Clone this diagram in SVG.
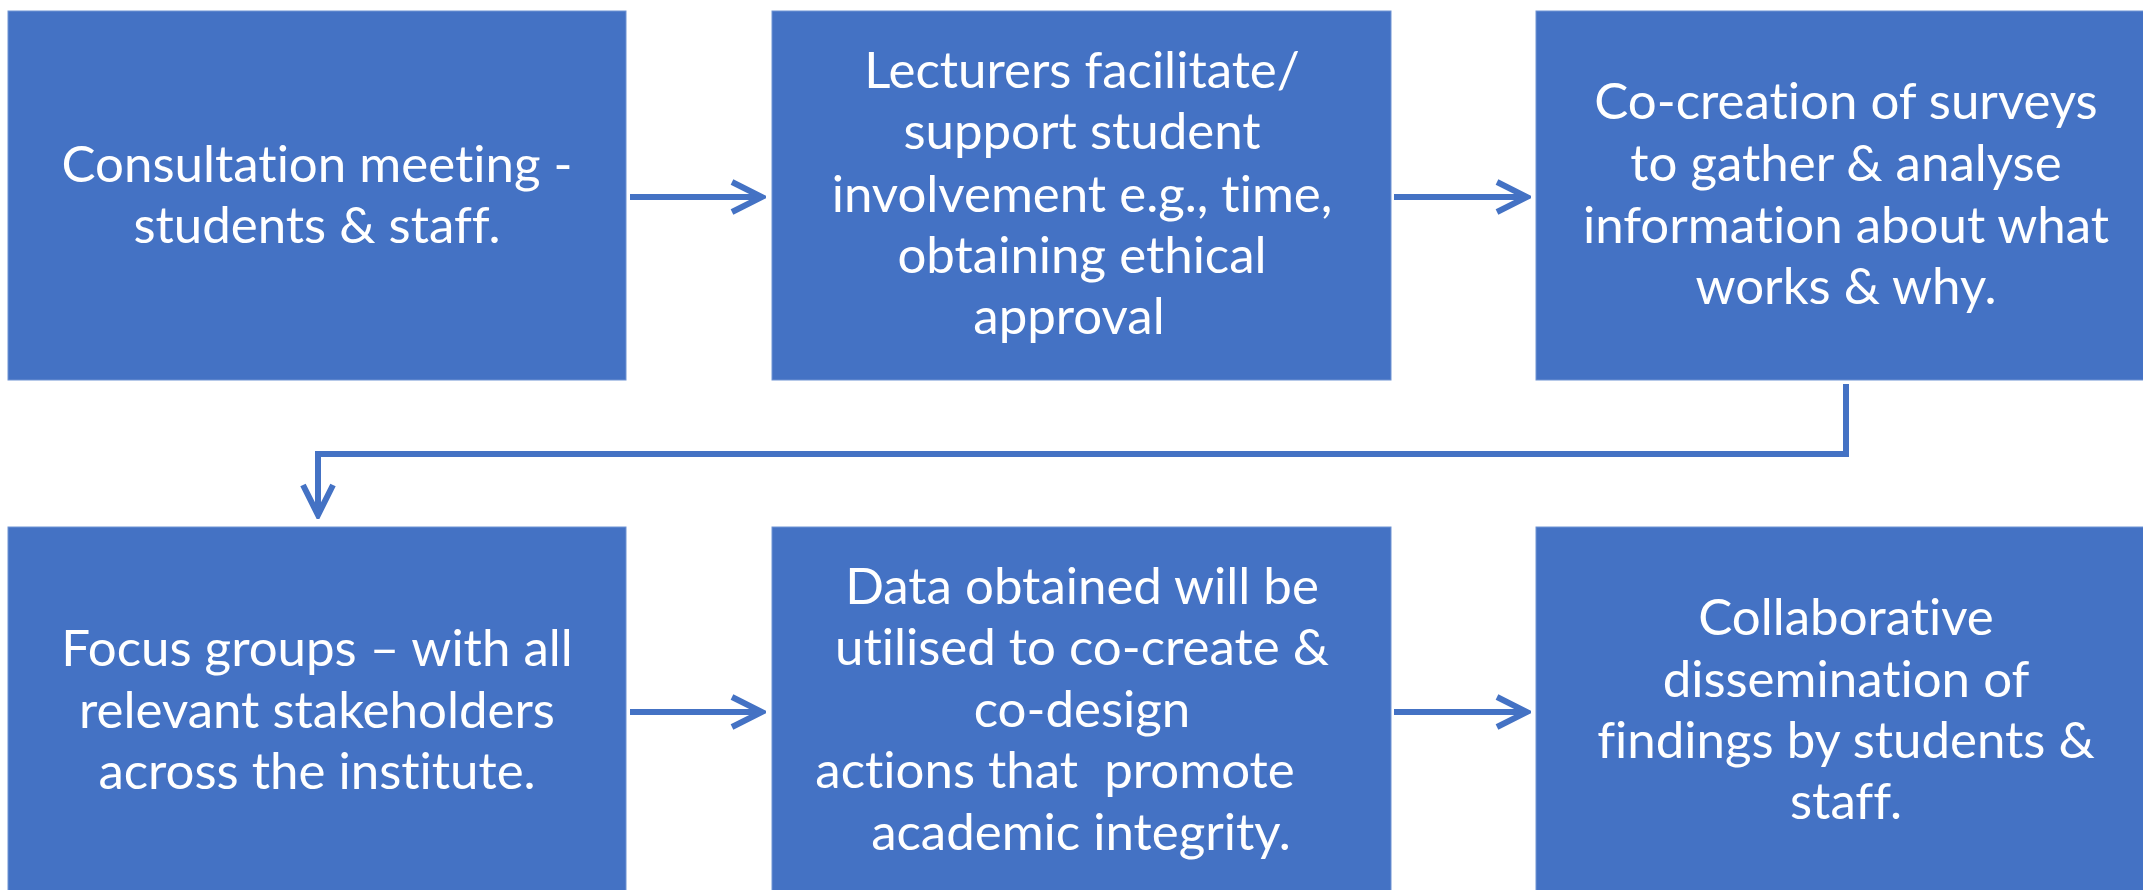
<svg xmlns="http://www.w3.org/2000/svg" width="2143" height="890" viewBox="0 0 2143 890">
<defs>
<style>
.box{fill:#4472C4;stroke:#6f93d3;stroke-width:1}
.t{font-family:Lato,"Open Sans","Liberation Sans",sans-serif;font-size:51px;fill:#ffffff;text-anchor:middle;white-space:pre;font-variant-ligatures:none;font-feature-settings:"liga" 0}
.c{fill:none;stroke:#4472C4;stroke-width:6;marker-end:url(#ah)}
</style>
<marker id="ah" markerUnits="userSpaceOnUse" markerWidth="40" markerHeight="40" viewBox="-36 -20 40 40" refX="0" refY="0" orient="auto">
<path d="M-30,-15 L0,0 L-30,15" fill="none" stroke="#4472C4" stroke-width="6"/>
</marker>
</defs>
<rect width="2143" height="890" fill="#ffffff"/>
<g id="connectors">
<path class="c" d="M630,197 H762"/>
<path class="c" d="M1394,197 H1527"/>
<path class="c" d="M1846,384 V454 H318 V515"/>
<path class="c" d="M630,712 H762"/>
<path class="c" d="M1394,712 H1527"/>
</g>
<g id="n1">
<rect class="box" x="8" y="11" width="618" height="369"/>
<text class="t" x="317" y="182">Consultation meeting -</text>
<text class="t" x="317" y="243">students &amp; staff.</text>
</g>
<g id="n2">
<rect class="box" x="772" y="11" width="619" height="369"/>
<text class="t" x="1082" y="88">Lecturers facilitate/</text>
<text class="t" x="1082" y="149">support student</text>
<text class="t" x="1082" y="212">involvement e.g., time,</text>
<text class="t" x="1082" y="273">obtaining ethical</text>
<text class="t" x="1069" y="334">approval</text>
</g>
<g id="n3">
<rect class="box" x="1536" y="11" width="620" height="369"/>
<text class="t" x="1846" y="119">Co-creation of surveys</text>
<text class="t" x="1846" y="181">to gather &amp; analyse</text>
<text class="t" x="1846" y="243">information about what</text>
<text class="t" x="1846" y="304">works &amp; why.</text>
</g>
<g id="n4">
<rect class="box" x="8" y="527" width="618" height="370"/>
<text class="t" x="317" y="666">Focus groups – with all</text>
<text class="t" x="317" y="728">relevant stakeholders</text>
<text class="t" x="317" y="789">across the institute.</text>
</g>
<g id="n5">
<rect class="box" x="772" y="527" width="619" height="370"/>
<text class="t" x="1082" y="604">Data obtained will be</text>
<text class="t" x="1082" y="665">utilised to co-create &amp;</text>
<text class="t" x="1082" y="727">co-design</text>
<text class="t" x="1055" y="788">actions that  promote</text>
<text class="t" x="1081" y="850">academic integrity.</text>
</g>
<g id="n6">
<rect class="box" x="1536" y="527" width="620" height="370"/>
<text class="t" x="1846" y="635">Collaborative</text>
<text class="t" x="1846" y="697">dissemination of</text>
<text class="t" x="1846" y="758">findings by students &amp;</text>
<text class="t" x="1846" y="819">staff.</text>
</g>
</svg>
